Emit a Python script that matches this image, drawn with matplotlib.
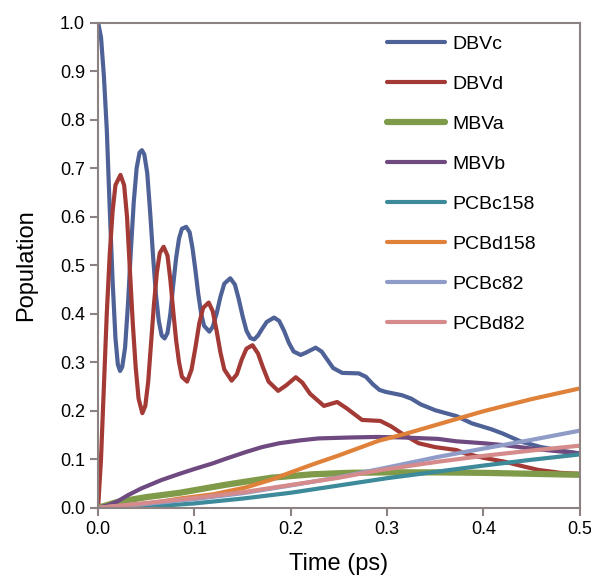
import matplotlib
matplotlib.use("Agg")
import matplotlib.pyplot as plt
import numpy as np

plt.rcParams['font.family'] = ['Liberation Sans', 'DejaVu Sans']

# values (time in ps, population)
dbvc_t = [0, 0.003, 0.006, 0.009, 0.012, 0.015, 0.018, 0.0205, 0.0228, 0.025, 0.028, 0.031,
          0.034, 0.037, 0.040, 0.043, 0.0455, 0.048, 0.051, 0.054, 0.057, 0.060, 0.063, 0.066,
          0.069, 0.072, 0.075, 0.078, 0.081, 0.084, 0.087, 0.0914, 0.095, 0.098, 0.101, 0.104,
          0.107, 0.110, 0.1155, 0.119, 0.123, 0.127, 0.131, 0.1372, 0.142, 0.146, 0.150, 0.154,
          0.158, 0.162, 0.166, 0.170, 0.175, 0.1827, 0.188, 0.193, 0.198, 0.203, 0.2103, 0.216,
          0.2258, 0.232, 0.238, 0.244, 0.2534, 0.2706, 0.278, 0.285, 0.292, 0.2982, 0.3154,
          0.325, 0.335, 0.35, 0.372, 0.388, 0.408, 0.42, 0.4395, 0.46, 0.48, 0.5]
dbvc_v = [1.0, 0.97, 0.89, 0.78, 0.62, 0.47, 0.35, 0.295, 0.282, 0.29, 0.33, 0.42,
          0.53, 0.63, 0.70, 0.732, 0.737, 0.728, 0.69, 0.61, 0.52, 0.44, 0.385, 0.355,
          0.349, 0.36, 0.40, 0.46, 0.515, 0.555, 0.575, 0.579, 0.568, 0.535, 0.49, 0.44,
          0.40, 0.375, 0.363, 0.373, 0.40, 0.435, 0.462, 0.473, 0.46, 0.43, 0.395, 0.365,
          0.350, 0.347, 0.355, 0.368, 0.383, 0.392, 0.385, 0.365, 0.34, 0.322, 0.315, 0.32,
          0.330, 0.322, 0.305, 0.288, 0.278, 0.277, 0.27, 0.255, 0.243, 0.239, 0.232,
          0.225, 0.213, 0.201, 0.189, 0.174, 0.162, 0.153, 0.136, 0.125, 0.118, 0.112]

dbvd_t = [0, 0.003, 0.006, 0.009, 0.012, 0.015, 0.018, 0.0232, 0.027, 0.030, 0.033, 0.036,
          0.039, 0.042, 0.0459, 0.049, 0.052, 0.055, 0.058, 0.061, 0.064, 0.068, 0.072, 0.075,
          0.078, 0.081, 0.084, 0.087, 0.0924, 0.097, 0.101, 0.105, 0.109, 0.1148, 0.119, 0.123,
          0.127, 0.131, 0.1386, 0.144, 0.149, 0.154, 0.1603, 0.166, 0.171, 0.177, 0.1869, 0.195,
          0.2052, 0.212, 0.220, 0.2344, 0.2482, 0.258, 0.274, 0.293, 0.304, 0.3154, 0.3327,
          0.35, 0.372, 0.381, 0.40, 0.422, 0.44, 0.457, 0.48, 0.5]
dbvd_v = [0, 0.10, 0.25, 0.40, 0.52, 0.61, 0.665, 0.686, 0.665, 0.60, 0.49, 0.38,
          0.29, 0.225, 0.195, 0.21, 0.26, 0.34, 0.42, 0.485, 0.525, 0.538, 0.52, 0.47,
          0.405, 0.345, 0.30, 0.27, 0.26, 0.285, 0.33, 0.38, 0.412, 0.423, 0.405, 0.365,
          0.32, 0.285, 0.262, 0.275, 0.305, 0.328, 0.335, 0.318, 0.29, 0.26, 0.241, 0.252,
          0.269, 0.258, 0.235, 0.21, 0.218, 0.205, 0.181, 0.179, 0.168, 0.153, 0.133,
          0.125, 0.119, 0.112, 0.103, 0.095, 0.086, 0.078, 0.072, 0.07]

mbva_t = [0, 0.02, 0.05, 0.085, 0.131, 0.1535, 0.18, 0.222, 0.26, 0.30, 0.35, 0.40, 0.45, 0.5]
mbva_v = [0, 0.012, 0.022, 0.031, 0.047, 0.054, 0.062, 0.069, 0.072, 0.073, 0.073, 0.072, 0.070, 0.068]

mbvb_t = [0, 0.01, 0.02, 0.031, 0.045, 0.0655, 0.0845, 0.10, 0.119, 0.131, 0.1535, 0.17,
          0.188, 0.21, 0.229, 0.264, 0.29, 0.315, 0.353, 0.372, 0.40, 0.422, 0.45, 0.475, 0.5]
mbvb_v = [0, 0.005, 0.013, 0.026, 0.040, 0.057, 0.070, 0.080, 0.0915, 0.100, 0.115, 0.125,
          0.133, 0.139, 0.143, 0.145, 0.146, 0.145, 0.142, 0.137, 0.133, 0.129, 0.122, 0.117, 0.112]

pcbc158_t = [0, 0.05, 0.1, 0.15, 0.2, 0.25, 0.3, 0.35, 0.4, 0.45, 0.5]
pcbc158_v = [0, 0.002, 0.009, 0.019, 0.031, 0.046, 0.061, 0.074, 0.087, 0.099, 0.11]

pcbd158_t = [0, 0.05, 0.0845, 0.12, 0.1535, 0.18, 0.2, 0.225, 0.25, 0.291, 0.32, 0.353, 0.4, 0.45, 0.5]
pcbd158_v = [0, 0.008, 0.019, 0.028, 0.042, 0.058, 0.073, 0.091, 0.108, 0.138, 0.153, 0.172, 0.199, 0.224, 0.246]

pcbc82_t = [0, 0.05, 0.1, 0.15, 0.2, 0.25, 0.3, 0.353, 0.4, 0.45, 0.5]
pcbc82_v = [0, 0.008, 0.018, 0.030, 0.046, 0.063, 0.083, 0.105, 0.122, 0.140, 0.159]

pcbd82_t = [0, 0.05, 0.1, 0.15, 0.2, 0.25, 0.291, 0.353, 0.4, 0.45, 0.5]
pcbd82_v = [0, 0.010, 0.020, 0.032, 0.047, 0.062, 0.077, 0.095, 0.107, 0.118, 0.128]

series = [
    ("DBVc", dbvc_t, dbvc_v, "#4f6297", 3.0),
    ("DBVd", dbvd_t, dbvd_v, "#a33a35", 3.0),
    ("MBVa", mbva_t, mbva_v, "#7f9a48", 4.5),
    ("MBVb", mbvb_t, mbvb_v, "#6f4a80", 3.0),
    ("PCBc158", pcbc158_t, pcbc158_v, "#3d8a9a", 3.0),
    ("PCBd158", pcbd158_t, pcbd158_v, "#e0813a", 3.0),
    ("PCBc82", pcbc82_t, pcbc82_v, "#8f9cc8", 3.0),
    ("PCBd82", pcbd82_t, pcbd82_v, "#d58b8b", 3.0),
]

fig = plt.figure(figsize=(5.91, 5.79), dpi=100)
ax = fig.add_axes([0.166, 0.123, 0.815, 0.838])

for name, t, v, color, lw in series:
    ax.plot(t, v, color=color, lw=lw, label=name,
            solid_capstyle='round', solid_joinstyle='round')

ax.set_xlim(0, 0.5)
ax.set_ylim(0, 1.0)
ax.set_xticks(np.arange(0, 0.51, 0.1))
ax.set_yticks(np.arange(0, 1.01, 0.1))
ax.set_xticklabels(["%.1f" % x for x in np.arange(0, 0.51, 0.1)])
ax.set_yticklabels(["%.1f" % y for y in np.arange(0, 1.01, 0.1)])

spine_color = "#8c8282"
for s in ax.spines.values():
    s.set_color(spine_color)
    s.set_linewidth(1.5)
ax.tick_params(direction='out', length=6, width=1.5, color=spine_color,
               labelsize=13, labelcolor='black')

ax.set_xlabel("Time (ps)", fontsize=17, labelpad=11)
ax.set_ylabel("Population", fontsize=17, labelpad=16)

leg = ax.legend(loc='upper right', frameon=False, fontsize=14,
                handlelength=3.0, handletextpad=0.35, labelspacing=1.15,
                bbox_to_anchor=(0.945, 1.01))

fig.savefig("out.png", dpi=100)
